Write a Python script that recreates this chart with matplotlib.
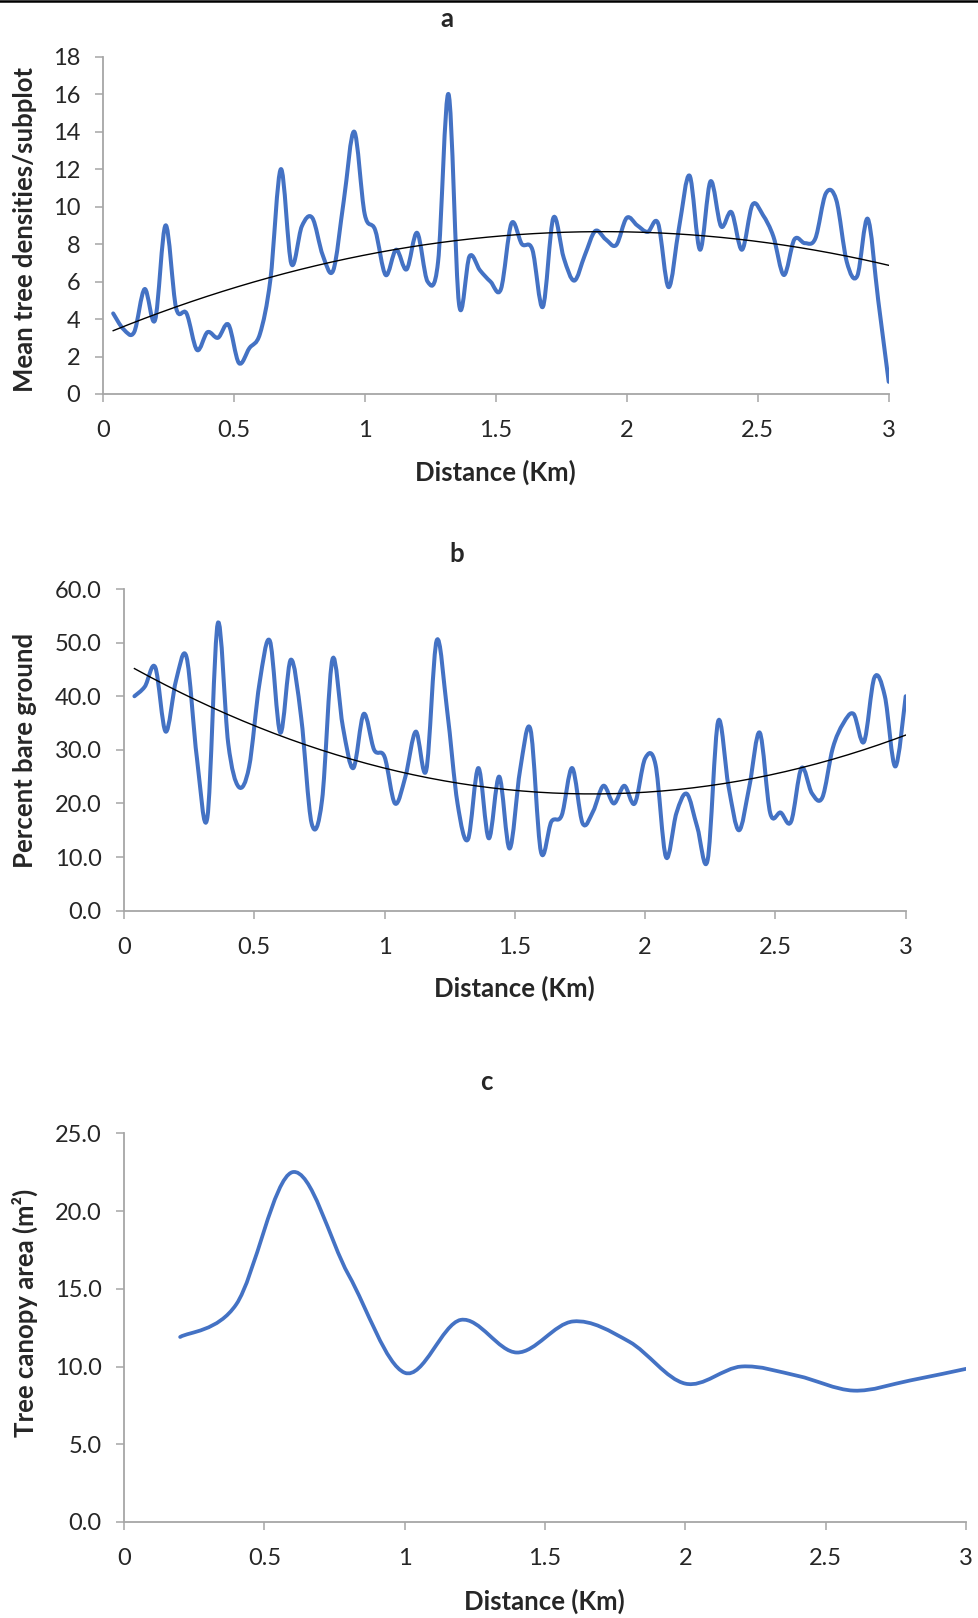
import numpy as np
import matplotlib
matplotlib.use("Agg")
import matplotlib.pyplot as plt
from matplotlib.path import Path
from matplotlib.patches import PathPatch
from matplotlib.lines import Line2D

plt.rcParams['font.family'] = ['Lato', 'DejaVu Sans']

# distance along the transect (km), one sample every 40 m
dist = [0.04, 0.08, 0.12, 0.16, 0.20, 0.24, 0.28, 0.32, 0.36, 0.40,
        0.44, 0.48, 0.52, 0.56, 0.60, 0.64, 0.68, 0.72, 0.76, 0.80,
        0.84, 0.88, 0.92, 0.96, 1.00, 1.04, 1.08, 1.12, 1.16, 1.20,
        1.24, 1.28, 1.32, 1.36, 1.40, 1.44, 1.48, 1.52, 1.56, 1.60,
        1.64, 1.68, 1.72, 1.76, 1.80, 1.84, 1.88, 1.92, 1.96, 2.00,
        2.04, 2.08, 2.12, 2.16, 2.20, 2.24, 2.28, 2.32, 2.36, 2.40,
        2.44, 2.48, 2.52, 2.56, 2.60, 2.64, 2.68, 2.72, 2.76, 2.80,
        2.84, 2.88, 2.92, 2.96, 3.00]

# a - mean tree densities per subplot
density = [4.3, 3.45, 3.3, 5.6, 3.95, 9.0, 4.6, 4.3, 2.35, 3.3,
           3.0, 3.7, 1.65, 2.45, 3.2, 6.1, 12.0, 6.95, 8.95, 9.4,
           7.4, 6.6, 10.3, 14.0, 9.6, 8.75, 6.35, 7.7, 6.65, 8.6,
           6.0, 7.05, 16.0, 4.8, 7.35, 6.6, 6.0, 5.6, 9.1, 8.0,
           7.7, 4.65, 9.4, 7.25, 6.05, 7.4, 8.7, 8.25, 7.95, 9.4,
           9.0, 8.65, 9.1, 5.7, 8.9, 11.65, 7.7, 11.35, 8.95, 9.7,
           7.7, 10.1, 9.55, 8.4, 6.35, 8.25, 8.05, 8.3, 10.7, 10.35,
           7.05, 6.3, 9.35, 5.0, 0.65]

# b - percent bare ground
bare = [40.0, 41.8, 45.4, 33.4, 43.0, 47.3, 28.4, 17.4, 53.6, 31.2,
        23.1, 26.8, 42.4, 50.3, 33.2, 46.8, 36.0, 16.3, 20.6, 46.9,
        34.3, 26.6, 36.7, 30.0, 28.7, 20.0, 25.0, 33.4, 26.2, 50.4,
        37.4, 20.0, 13.3, 26.6, 13.5, 25.0, 11.6, 26.2, 33.8, 11.0,
        16.6, 17.8, 26.6, 16.3, 18.5, 23.3, 20.0, 23.3, 20.0, 28.4,
        27.2, 10.0, 18.2, 21.8, 15.6, 9.5, 35.3, 23.2, 15.0, 23.2,
        33.2, 18.2, 18.3, 16.6, 26.6, 21.9, 21.1, 30.3, 34.9, 36.7,
        31.5, 43.5, 40.0, 26.9, 40.0]

# c - tree canopy area, every 200 m
dist_c = [0.2, 0.4, 0.6, 0.8, 1.0, 1.2, 1.4, 1.6, 1.8, 2.0, 2.2, 2.4, 2.6, 2.8, 3.0]
canopy = [11.9, 14.0, 22.5, 15.9, 9.6, 13.0, 10.9, 12.9, 11.6, 8.9, 10.0, 9.4, 8.45, 9.1, 9.85]

xticks = [0, 0.5, 1, 1.5, 2, 2.5, 3]
xticklabels = ['0', '0.5', '1', '1.5', '2', '2.5', '3']

BLUE = '#4472C4'
GREY = '#A6A6A6'
TXT = '#262626'
W, H = 979, 1618


def smooth_path(x, y):
    # excel style smoothed line: bezier through every point
    pts = np.column_stack([x, y]).astype(float)
    n = len(pts)
    verts = [pts[0]]
    codes = [Path.MOVETO]
    for i in range(n - 1):
        p0 = pts[i - 1] if i > 0 else pts[i]
        p1 = pts[i]
        p2 = pts[i + 1]
        p3 = pts[i + 2] if i + 2 < n else pts[i + 1]
        verts += [p1 + (p2 - p0) / 6, p2 - (p3 - p1) / 6, p2]
        codes += [Path.CURVE4] * 3
    return Path(verts, codes)


def box(l, r, b, t):
    # pixel edges -> figure fractions
    return [l / W, 1 - b / H, (r - l) / W, (b - t) / H]


def style(ax, ylim, yticks, fmt):
    ax.set_xlim(0, 3)
    ax.set_ylim(*ylim)
    ax.set_xticks(xticks)
    ax.set_xticklabels(xticklabels)
    ax.set_yticks(yticks)
    ax.set_yticklabels([fmt.format(v) for v in yticks])
    for s in ['top', 'right']:
        ax.spines[s].set_visible(False)
    for s in ['left', 'bottom']:
        ax.spines[s].set_color(GREY)
        ax.spines[s].set_linewidth(1.3)
    ax.tick_params(axis='both', colors=GREY, labelcolor=TXT, labelsize=17,
                   length=6, width=1.1, direction='out')
    ax.tick_params(axis='x', pad=13)
    ax.tick_params(axis='y', pad=10)


def draw(ax, x, y, lw, trend=True):
    ax.add_patch(PathPatch(smooth_path(x, y), fill=False, edgecolor=BLUE,
                           lw=lw, capstyle='round', joinstyle='round', zorder=2))
    if trend:
        coef = np.polyfit(x, y, 2)
        xs = np.linspace(x[0], x[-1], 200)
        ax.plot(xs, np.polyval(coef, xs), color='black', lw=1.0, zorder=3)


def label(x, y, s, rot=0, size=18.5):
    fig.text(x / W, 1 - y / H, s, ha='center', va='center', rotation=rot,
             fontsize=size, fontweight='bold', color=TXT)


fig = plt.figure(figsize=(W / 100, H / 100), dpi=100)

ax1 = fig.add_axes(box(102.7, 888.7, 394, 56.7))
draw(ax1, dist, density, 2.9)
style(ax1, (0, 18), list(range(0, 19, 2)), '{:.0f}')

ax2 = fig.add_axes(box(124, 905.7, 910.7, 589))
draw(ax2, dist, bare, 2.9)
style(ax2, (0, 60), [0, 10, 20, 30, 40, 50, 60], '{:.1f}')

ax3 = fig.add_axes(box(124, 966, 1522, 1133.3))
draw(ax3, dist_c, canopy, 2.7, trend=False)
style(ax3, (0, 25), [0, 5, 10, 15, 20, 25], '{:.1f}')

label(446.7, 19, 'a')
label(457, 554, 'b')
label(486, 1082, 'c')
label(495, 472.5, 'Distance (Km)')
label(514.8, 988, 'Distance (Km)')
label(544.7, 1601, 'Distance (Km)')
label(24.8, 229, 'Mean tree densities/subplot', 90)
label(24.8, 750, 'Percent bare ground', 90)
label(24.8, 1313, 'Tree canopy area (m²)', 90)

# border line along the top edge
fig.add_artist(Line2D([0, 1], [1 - 1 / H, 1 - 1 / H], transform=fig.transFigure,
                      color='black', lw=1.8))

fig.savefig('out.png', dpi=100)
